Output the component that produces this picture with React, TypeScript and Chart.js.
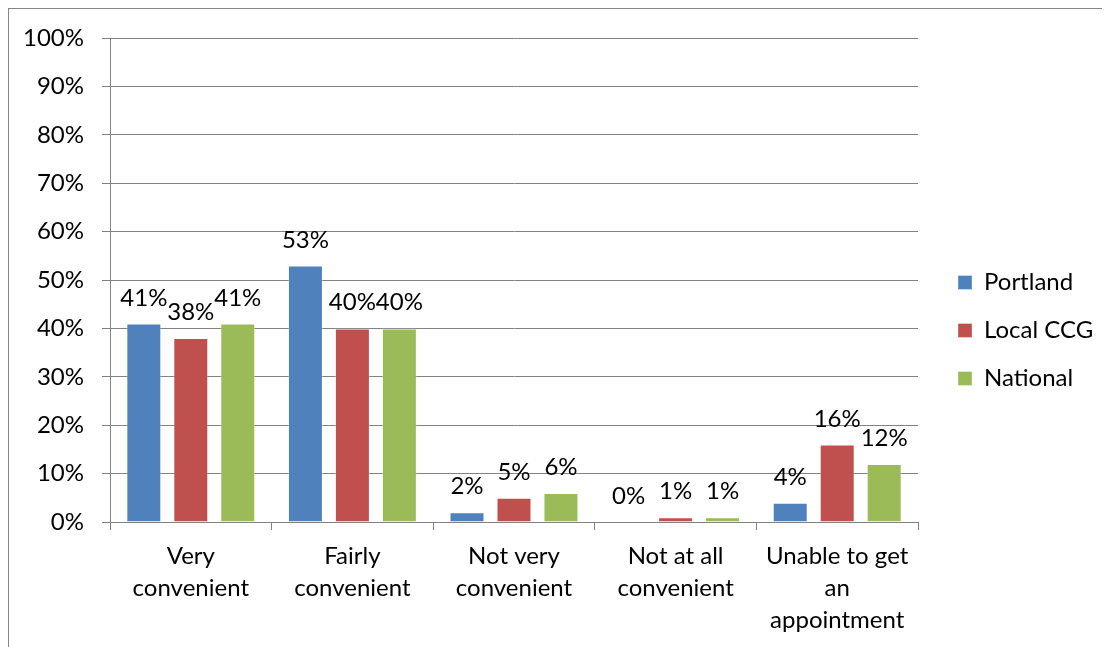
import React, { useEffect, useRef } from "react";
import { Chart, registerables } from "chart.js";

Chart.register(...registerables);

const categories: string[][] = [
  ["Very", "convenient"],
  ["Fairly", "convenient"],
  ["Not very", "convenient"],
  ["Not at all", "convenient"],
  ["Unable to get", "an", "appointment"],
];
const seriesNames = ["Portland", "Local CCG", "National"];
const portland = [41, 53, 2, 0, 4];
const localCCG = [38, 40, 5, 1, 16];
const national = [41, 40, 6, 1, 12];
const yTicks = [0, 10, 20, 30, 40, 50, 60, 70, 80, 90, 100];
const colors = ["#4F81BD", "#C0504D", "#9BBB59"];

const FONT = "Lato, 'Open Sans', sans-serif";
const FS = 24;
const GRID = "#828282";

const valueLabels = {
  id: "valueLabels",
  afterDatasetsDraw(chart: any) {
    const ctx = chart.ctx;
    ctx.save();
    ctx.font = `${FS}px ${FONT}`;
    ctx.fillStyle = "#000";
    ctx.textAlign = "center";
    ctx.textBaseline = "alphabetic";
    chart.data.datasets.forEach((ds: any, i: number) => {
      const meta = chart.getDatasetMeta(i);
      meta.data.forEach((el: any, j: number) => {
        ctx.fillText(`${ds.data[j]}%`, el.x, el.y - 18);
      });
    });
    ctx.restore();
  },
};

export default function App() {
  const ref = useRef<HTMLCanvasElement | null>(null);
  useEffect(() => {
    document.documentElement.style.overflow = "hidden";
    Chart.defaults.font.family = FONT;
    Chart.defaults.color = "#000";
    const series = [portland, localCCG, national];
    const chart = new Chart(ref.current as HTMLCanvasElement, {
      type: "bar",
      data: {
        labels: categories,
        datasets: series.map((d, i) => ({
          label: seriesNames[i],
          data: d,
          backgroundColor: colors[i],
          borderColor: "rgba(255,255,255,0.35)",
          borderWidth: 1,
          categoryPercentage: 0.872,
          barPercentage: 0.745,
        })),
      },
      options: {
        responsive: false,
        animation: false,
        layout: { padding: { left: 0, top: 10, bottom: 5, right: 14 } },
        plugins: {
          tooltip: { enabled: false },
          legend: {
            position: "right",
            maxWidth: 162,
            labels: {
              boxWidth: 14,
              boxHeight: 14,
              padding: 24,
              color: "#000",
              font: { size: FS, family: FONT },
            },
          },
        },
        scales: {
          x: {
            grid: {
              display: true,
              drawOnChartArea: false,
              drawTicks: true,
              tickLength: 8,
              color: GRID,
              offset: true,
            },
            border: { display: true, color: GRID },
            ticks: {
              color: "#000",
              padding: 10,
              maxRotation: 0,
              autoSkip: false,
              font: { size: FS, family: FONT, lineHeight: 1.34 },
            },
            afterFit: (s: any) => {
              s.height = 120;
            },
          },
          y: {
            min: 0,
            max: 100,
            afterBuildTicks: (s: any) => {
              s.ticks = yTicks.map((v) => ({ value: v }));
            },
            grid: {
              color: GRID,
              tickLength: 8,
              drawTicks: true,
            },
            border: { display: true, color: GRID },
            ticks: {
              color: "#000",
              padding: 18,
              callback: (v: any) => `${v}%`,
              font: { size: FS, family: FONT, lineHeight: 0.92 },
            },
            afterFit: (s: any) => {
              s.width = 101;
            },
          },
          pad: {
            type: "linear",
            position: "right",
            display: true,
            grid: { display: false },
            border: { display: false },
            ticks: { display: false },
            afterFit: (s: any) => {
              s.width = 16;
            },
          },
        },
      },
      plugins: [valueLabels],
    });
    return () => chart.destroy();
  }, []);
  return (
    <div
      style={{
        width: 1101,
        height: 638,
        borderTop: "1px solid #868686",
        borderLeft: "1px solid #868686",
      }}
    >
      <canvas ref={ref} width={1101} height={638} style={{ display: "block" }} />
    </div>
  );
}
